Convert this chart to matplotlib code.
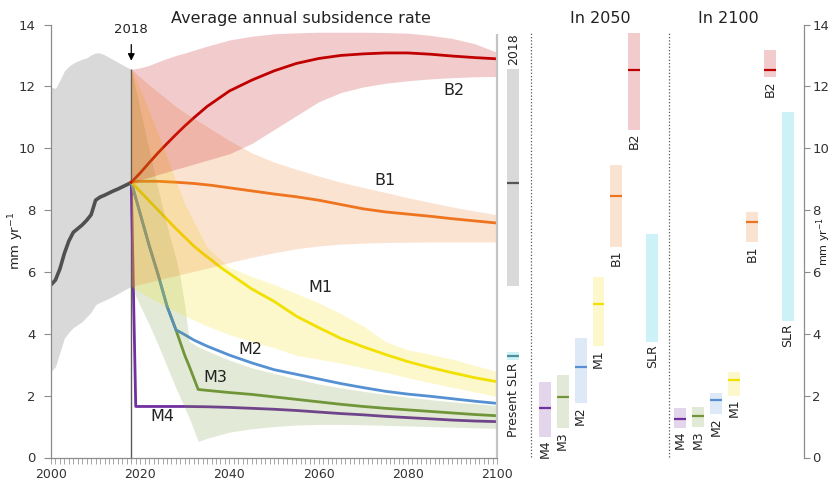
import numpy as np
import matplotlib
matplotlib.use("Agg")
import matplotlib.pyplot as plt

# ---------------- historical record, 2000-2018 ----------------
hist_years = list(range(2000, 2019))
hist_rate = [5.58, 5.74, 6.10, 6.60, 7.00, 7.28, 7.40, 7.52, 7.67, 7.85,
             8.32, 8.42, 8.48, 8.55, 8.62, 8.68, 8.75, 8.82, 8.89]
hist_low = [2.78, 2.94, 3.40, 3.86, 4.05, 4.20, 4.30, 4.39, 4.55, 4.70,
            4.94, 5.02, 5.08, 5.15, 5.22, 5.30, 5.38, 5.46, 5.53]
hist_high = [11.98, 11.93, 12.20, 12.50, 12.65, 12.75, 12.82, 12.88, 12.92, 13.02,
             13.08, 13.08, 13.02, 12.94, 12.86, 12.78, 12.70, 12.62, 12.55]

# ---------------- scenario central estimates ----------------
b2_years = [2018, 2020, 2022, 2024, 2026, 2028, 2030, 2032, 2035, 2040, 2045, 2050,
            2055, 2060, 2065, 2070, 2075, 2080, 2085, 2090, 2095, 2100]
b2_rate = [8.90, 9.20, 9.53, 9.85, 10.15, 10.44, 10.72, 10.98, 11.35, 11.85, 12.20, 12.50,
           12.74, 12.90, 13.00, 13.05, 13.08, 13.08, 13.04, 12.98, 12.93, 12.89]

b1_years = [2018, 2020, 2024, 2028, 2032, 2036, 2040, 2045, 2050, 2055, 2060, 2065,
            2070, 2075, 2080, 2085, 2090, 2095, 2100]
b1_rate = [8.90, 8.93, 8.93, 8.90, 8.86, 8.80, 8.72, 8.62, 8.52, 8.43, 8.32, 8.18,
           8.04, 7.94, 7.87, 7.80, 7.72, 7.65, 7.58]

m1_years = [2018, 2020, 2022, 2024, 2026, 2028, 2030, 2032, 2034, 2036, 2038, 2040,
            2045, 2050, 2055, 2060, 2065, 2070, 2075, 2080, 2085, 2090, 2095, 2100]
m1_rate = [8.90, 8.60, 8.30, 8.00, 7.70, 7.40, 7.12, 6.84, 6.60, 6.38, 6.15, 5.95,
           5.45, 5.05, 4.57, 4.20, 3.85, 3.58, 3.33, 3.10, 2.91, 2.74, 2.58, 2.45]

m2_years = [2018, 2020, 2022, 2024, 2026, 2028, 2030, 2032, 2035, 2040, 2045, 2050,
            2055, 2060, 2065, 2070, 2075, 2080, 2085, 2090, 2095, 2100]
m2_rate = [8.90, 7.88, 6.86, 5.92, 4.90, 4.13, 3.97, 3.80, 3.60, 3.31, 3.06, 2.84,
           2.69, 2.54, 2.39, 2.26, 2.14, 2.05, 1.98, 1.90, 1.82, 1.75]

m3_years = [2018, 2020, 2022, 2024, 2026, 2028, 2030, 2031, 2033, 2035, 2040, 2045,
            2050, 2055, 2060, 2065, 2070, 2075, 2080, 2085, 2090, 2095, 2100]
m3_rate = [8.90, 7.88, 6.86, 5.92, 4.90, 4.13, 3.30, 2.95, 2.20, 2.17, 2.10, 2.04,
           1.96, 1.88, 1.80, 1.72, 1.65, 1.59, 1.54, 1.49, 1.44, 1.39, 1.35]

m4_years = [2018, 2019, 2025, 2030, 2035, 2040, 2045, 2050, 2055, 2060, 2065, 2070,
            2075, 2080, 2085, 2090, 2095, 2100]
m4_rate = [8.90, 1.65, 1.65, 1.65, 1.64, 1.62, 1.59, 1.56, 1.52, 1.47, 1.42, 1.38,
           1.33, 1.29, 1.25, 1.21, 1.18, 1.16]

# ---------------- scenario uncertainty ranges ----------------
band_years = [2018, 2020, 2022, 2025, 2028, 2030, 2035, 2040, 2045, 2050,
              2055, 2060, 2065, 2070, 2075, 2080, 2085, 2090, 2095, 2100]
b2_high = [12.55, 12.60, 12.68, 12.85, 13.00, 13.08, 13.30, 13.50, 13.62, 13.70,
           13.73, 13.75, 13.75, 13.75, 13.74, 13.72, 13.65, 13.55, 13.38, 13.10]
b2_low = [8.90, 8.98, 9.06, 9.19, 9.32, 9.40, 9.61, 9.82, 10.15, 10.60,
          11.05, 11.50, 11.80, 11.98, 12.10, 12.18, 12.24, 12.28, 12.31, 12.32]
b1_high = [12.55, 12.30, 12.05, 11.70, 11.35, 11.15, 10.70, 10.25, 9.85, 9.55,
           9.32, 9.10, 8.90, 8.73, 8.57, 8.40, 8.25, 8.10, 7.97, 7.85]
b1_low = [5.53, 5.60, 5.67, 5.78, 5.88, 5.95, 6.12, 6.30, 6.47, 6.62,
          6.75, 6.84, 6.90, 6.93, 6.95, 6.96, 6.97, 6.97, 6.97, 6.97]
m1_high = [12.55, 11.90, 11.20, 10.10, 8.95, 8.20, 6.80, 6.15, 5.85, 5.60,
           5.30, 5.00, 4.65, 4.25, 3.75, 3.48, 3.34, 3.18, 2.98, 2.78]
m1_low = [5.53, 5.35, 5.18, 4.95, 4.72, 4.58, 4.25, 3.97, 3.75, 3.55,
          3.30, 3.18, 3.05, 2.90, 2.75, 2.58, 2.42, 2.27, 2.12, 1.97]

mx_years = [2018, 2020, 2022, 2024, 2026, 2028, 2029, 2030, 2031, 2033, 2035, 2040,
            2045, 2050, 2055, 2060, 2065, 2070, 2075, 2080, 2085, 2090, 2095, 2100]
mx_high = [12.55, 11.25, 9.95, 8.70, 7.50, 6.45, 5.80, 4.90, 3.75, 3.58, 3.45, 3.15,
           2.90, 2.72, 2.54, 2.38, 2.25, 2.14, 2.04, 1.95, 1.87, 1.80, 1.74, 1.68]
mx_low = [5.53, 4.90, 4.30, 3.65, 2.95, 2.25, 1.93, 1.60, 1.28, 0.52, 0.62, 0.82,
          0.93, 1.00, 1.05, 1.07, 1.07, 1.06, 1.04, 1.02, 1.00, 0.98, 0.96, 0.94]

# ---------------- snapshot ranges ----------------
snap_names = ["M4", "M3", "M2", "M1", "B1", "B2", "SLR"]
r2050_low = [0.67, 0.94, 1.75, 3.59, 6.82, 10.60, 3.75]
r2050_high = [2.43, 2.67, 3.86, 5.83, 9.47, 13.73, 7.22]
r2050_med = [1.59, 1.97, 2.92, 4.96, 8.47, 12.54, None]
r2100_low = [0.96, 0.98, 1.40, 2.00, 6.96, 12.29, 4.42]
r2100_high = [1.61, 1.64, 2.08, 2.76, 7.95, 13.19, 11.17]
r2100_med = [1.26, 1.35, 1.86, 2.51, 7.61, 12.53, None]
r2018_range = [5.53, 12.55]
r2018_med = 8.89
slr_now_range = [3.15, 3.42]
slr_now_med = 3.29

# ---------------- styling ----------------
col = {"B2": "#c00000", "B1": "#ee7420", "M1": "#f2e000", "M2": "#5591d2",
       "M3": "#71963a", "M4": "#7030a0", "SLR": "#00bcd4"}
band_alpha = 0.2
txt = "#222222"
axis_grey = "#8c8c8c"

W, H = 833, 484
fig = plt.figure(figsize=(W / 100, H / 100), dpi=100)
L, R = 51 / W, 497 / W
B, T = (H - 457.5) / H, (H - 24.5) / H
ax = fig.add_axes([L, B, R - L, T - B])
ax.set_xlim(2000, 2100)
ax.set_ylim(0, 14)

# history
ax.fill_between(hist_years, hist_low, hist_high, color="#d9d9d9", lw=0, zorder=0.5)
ax.plot(hist_years, hist_rate, color="#505050", lw=2.6, solid_capstyle="butt", zorder=1)
ax.vlines(2018, 0, hist_high[-1], color="#5a5a5a", lw=1.0, zorder=1)

# scenario lines (beneath the translucent ranges)
lw = 2.0
ax.plot(m4_years, m4_rate, color=col["M4"], lw=lw, zorder=1.1)
ax.plot(m3_years, m3_rate, color=col["M3"], lw=lw, zorder=1.1)
ax.plot(m2_years, m2_rate, color=col["M2"], lw=lw, zorder=1.2)
ax.plot(m1_years, m1_rate, color=col["M1"], lw=lw, zorder=1.2)
ax.plot(b1_years, b1_rate, color=col["B1"], lw=lw, zorder=1.2)
ax.plot(b2_years, b2_rate, color=col["B2"], lw=lw, zorder=1.2)

# ranges
ax.fill_between(mx_years, mx_low, mx_high, color=col["M3"], alpha=band_alpha, lw=0, zorder=2)
ax.fill_between(band_years, m1_low, m1_high, color=col["M1"], alpha=band_alpha, lw=0, zorder=2)
ax.fill_between(band_years, b1_low, b1_high, color=col["B1"], alpha=band_alpha, lw=0, zorder=2)
ax.fill_between(band_years, b2_low, b2_high, color=col["B2"], alpha=band_alpha, lw=0, zorder=2)

# scenario names
lab_kw = dict(ha="center", va="center", fontsize=11.5, color=txt, zorder=5)
ax.text(2090.3, 11.88, "B2", **lab_kw)
ax.text(2075.0, 8.94, "B1", **lab_kw)
ax.text(2060.4, 5.49, "M1", **lab_kw)
ax.text(2044.6, 3.49, "M2", **lab_kw)
ax.text(2036.9, 2.60, "M3", **lab_kw)
ax.text(2024.9, 1.32, "M4", **lab_kw)

ax.annotate("2018", xy=(2018, 12.83), xytext=(2018, 13.83),
            ha="center", va="center", fontsize=9.5, color=txt,
            arrowprops=dict(arrowstyle="-|>", color="black", lw=0.9,
                            mutation_scale=10, shrinkA=4, shrinkB=0),
            annotation_clip=False, zorder=6)

# axes cosmetics
for s in ["top", "right"]:
    ax.spines[s].set_visible(False)
for s in ["left", "bottom"]:
    ax.spines[s].set_color(axis_grey)
    ax.spines[s].set_linewidth(0.9)
ax.vlines(2100, 0, 13.7, color="#c4c4c4", lw=1.6, clip_on=False, zorder=3)
ax.set_xticks(range(2000, 2101, 20))
ax.set_xticks(range(2000, 2101), minor=True)
ax.set_yticks(range(0, 15, 2))
ax.tick_params(axis="x", which="both", length=4, width=0.7, color="#a6a6a6",
               labelsize=9, labelcolor="#333333", pad=3.5)
ax.tick_params(axis="y", length=5, width=0.8, color=axis_grey,
               labelsize=9.5, labelcolor="#333333", pad=6)
ax.set_ylabel("mm yr$^{-1}$", fontsize=9.5, color=txt)
ax.yaxis.set_label_coords(-0.056, 0.5)

# ---------------- snapshot panel ----------------
ax2 = fig.add_axes([R, B, 804 / W - R, T - B])
ax2.patch.set_visible(False)
ax2.set_ylim(0, 14)
ax2.set_xlim(-0.91, 16.24)
for s in ["top", "left", "bottom"]:
    ax2.spines[s].set_visible(False)
ax2.spines["right"].set_color(axis_grey)
ax2.spines["right"].set_linewidth(0.9)
ax2.set_xticks([])
ax2.yaxis.tick_right()
ax2.set_yticks(range(0, 15, 2))
ax2.tick_params(axis="y", length=4, width=0.8, color=axis_grey,
                labelsize=9.5, labelcolor="#333333", pad=2)
ax2.yaxis.set_label_position("right")
ax2.set_ylabel("mm yr$^{-1}$", fontsize=8, color=txt, rotation=90)
ax2.yaxis.set_label_coords(1.035, 0.5)

bw = 0.67
slot_2018 = 0.0
start_2050, start_2100 = 1.76, 9.33
separators = [0.97, 8.72]
ax2.vlines(separators, 0.03, 13.72, color="#555555", lw=0.9, linestyles=(0, (1, 1.6)))


def range_bar(x, lo, hi, med, face, alpha, med_color, label, label_above=False):
    ax2.bar(x, hi - lo, bottom=lo, width=bw, color=face, alpha=alpha, lw=0)
    if med is not None:
        ax2.hlines(med, x - bw / 2, x + bw / 2, color=med_color, lw=1.6)
    if label_above:
        ax2.annotate(label, (x, hi), xytext=(0, 3), textcoords="offset points",
                     rotation=90, ha="center", va="bottom", fontsize=9, color=txt)
    else:
        ax2.annotate(label, (x, lo), xytext=(0, -2), textcoords="offset points",
                     rotation=90, ha="center", va="top", fontsize=9, color=txt)


range_bar(slot_2018, r2018_range[0], r2018_range[1], r2018_med, "#d9d9d9", 1.0,
          "#555555", "2018", label_above=True)
range_bar(slot_2018, slr_now_range[0], slr_now_range[1], slr_now_med, col["SLR"], 0.2,
          "#4f8f9a", "Present SLR")

for i, name in enumerate(snap_names):
    range_bar(start_2050 + i, r2050_low[i], r2050_high[i], r2050_med[i],
              col[name], band_alpha, col[name], name)
    range_bar(start_2100 + i, r2100_low[i], r2100_high[i], r2100_med[i],
              col[name], band_alpha, col[name], name)

# ---------------- titles ----------------
fig.text(301 / W, (H - 22.7) / H, "Average annual subsidence rate", ha="center",
         va="baseline", fontsize=11.5, color=txt)
fig.text(600 / W, (H - 22.7) / H, "In 2050", ha="center", va="baseline",
         fontsize=11.5, color=txt)
fig.text(728.5 / W, (H - 22.7) / H, "In 2100", ha="center", va="baseline",
         fontsize=11.5, color=txt)

fig.savefig("out.png", dpi=100)
